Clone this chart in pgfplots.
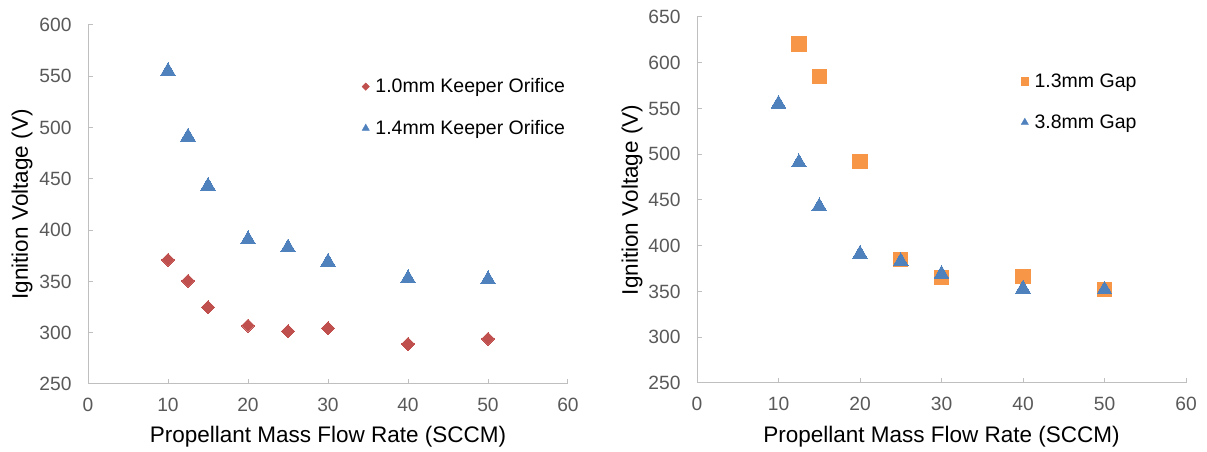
\documentclass[border=0pt]{standalone}
\usepackage{fontspec}
\setmainfont{Liberation Sans}
\usepackage{pgfplots}
\pgfplotsset{compat=1.18}
\definecolor{cRed}{HTML}{C0504D}
\definecolor{cBlue}{HTML}{4F81BD}
\definecolor{cOrange}{HTML}{F79646}
\definecolor{axgray}{HTML}{BFBFBF}
\definecolor{tickgray}{HTML}{595959}
\pgfplotsset{
 mychart/.style={
  scale only axis,
  axis x line*=bottom, axis y line*=left,
  axis line style={draw=axgray, line width=1pt},
  every tick/.style={draw=axgray, line width=1pt},
  tick align=inside, major tick length=5pt,
  xmin=0, xmax=60, xtick={0,10,...,60},
  ticklabel style={font=\fontsize{19.2}{20}\selectfont, text=tickgray},
  /pgf/number format/assume math mode=true,
  yticklabel style={xshift=-13pt},
  xticklabel style={yshift=-11pt},
  label style={font=\fontsize{22.5}{26}\selectfont, text=black},
  legend style={draw=none, fill=none, font=\fontsize{19.5}{21}\selectfont,
    row sep=26pt, anchor=north west, inner sep=0pt, outer sep=0pt,
    nodes={inner sep=0pt, outer sep=0pt}, column sep=6pt},
  legend cell align=left,
  clip=false,
 }
}
\begin{document}
\begin{tikzpicture}
\useasboundingbox (0,0) rectangle (1207pt,452pt);
% Left panel
\begin{axis}[mychart,
  at={(88pt,68pt)}, anchor=south west,
  width=480pt, height=359pt,
  ymin=250, ymax=600, ytick={250,300,...,600},
  xlabel={Propellant Mass Flow Rate (SCCM)},
  ylabel={Ignition Voltage (V)},
  xlabel style={at={(axis description cs:0.5,-0.1476)}, anchor=center},
  ylabel style={at={(axis description cs:-0.1375,0.5)}, anchor=center},
  legend style={at={(axis description cs:0.571,0.85)}},
]
\addplot[only marks, mark=square*, mark size=4.6pt,
  mark options={rotate=45, fill=cRed, draw=cRed, line width=0pt},
  legend image code/.code={\draw[mark=square*, mark size=2.6pt, mark options={rotate=45, fill=cRed, draw=cRed}] plot coordinates {(4pt,0pt)};}]
coordinates {(10,371) (12.5,350.5) (15,325) (20,307) (25,301.5) (30,304.5) (40,289) (50,294)};
\addlegendentry{1.0mm Keeper Orifice}
\addplot[only marks, mark=triangle*, mark size=8.5pt,
  mark options={fill=cBlue, draw=cBlue, line width=0pt},
  legend image code/.code={\draw[mark=triangle*, mark size=4.2pt, mark options={fill=cBlue, draw=cBlue}] plot coordinates {(4pt,0pt)};}]
coordinates {(10,555) (12.5,491) (15,443) (20,391) (25,383) (30,369) (40,353) (50,352)};
\addlegendentry{1.4mm Keeper Orifice}
\end{axis}
% Right panel
\begin{axis}[mychart,
  at={(697pt,69pt)}, anchor=south west,
  width=489pt, height=366pt,
  ymin=250, ymax=650, ytick={250,300,...,650},
  xlabel={Propellant Mass Flow Rate (SCCM)},
  ylabel={Ignition Voltage (V)},
  xlabel style={at={(axis description cs:0.5,-0.1475)}, anchor=center},
  ylabel style={at={(axis description cs:-0.133,0.5)}, anchor=center},
  legend style={at={(axis description cs:0.6626,0.845)}},
]
\addplot[only marks, mark=square*, mark size=7.2pt,
  mark options={fill=cOrange, draw=cOrange, line width=0pt},
  legend image code/.code={\draw[mark=square*, mark size=3.8pt, mark options={fill=cOrange, draw=cOrange}] plot coordinates {(4pt,0pt)};}]
coordinates {(12.5,620.5) (15,585) (20,492) (25,385) (30,365) (40,366.5) (50,352)};
\addlegendentry{1.3mm Gap}
\addplot[only marks, mark=triangle*, mark size=8.5pt,
  mark options={fill=cBlue, draw=cBlue, line width=0pt},
  legend image code/.code={\draw[mark=triangle*, mark size=4.2pt, mark options={fill=cBlue, draw=cBlue}] plot coordinates {(4pt,0pt)};}]
coordinates {(10,555) (12.5,491) (15,443) (20,391) (25,383) (30,369) (40,353) (50,352)};
\addlegendentry{3.8mm Gap}
\end{axis}
\end{tikzpicture}
\end{document}
